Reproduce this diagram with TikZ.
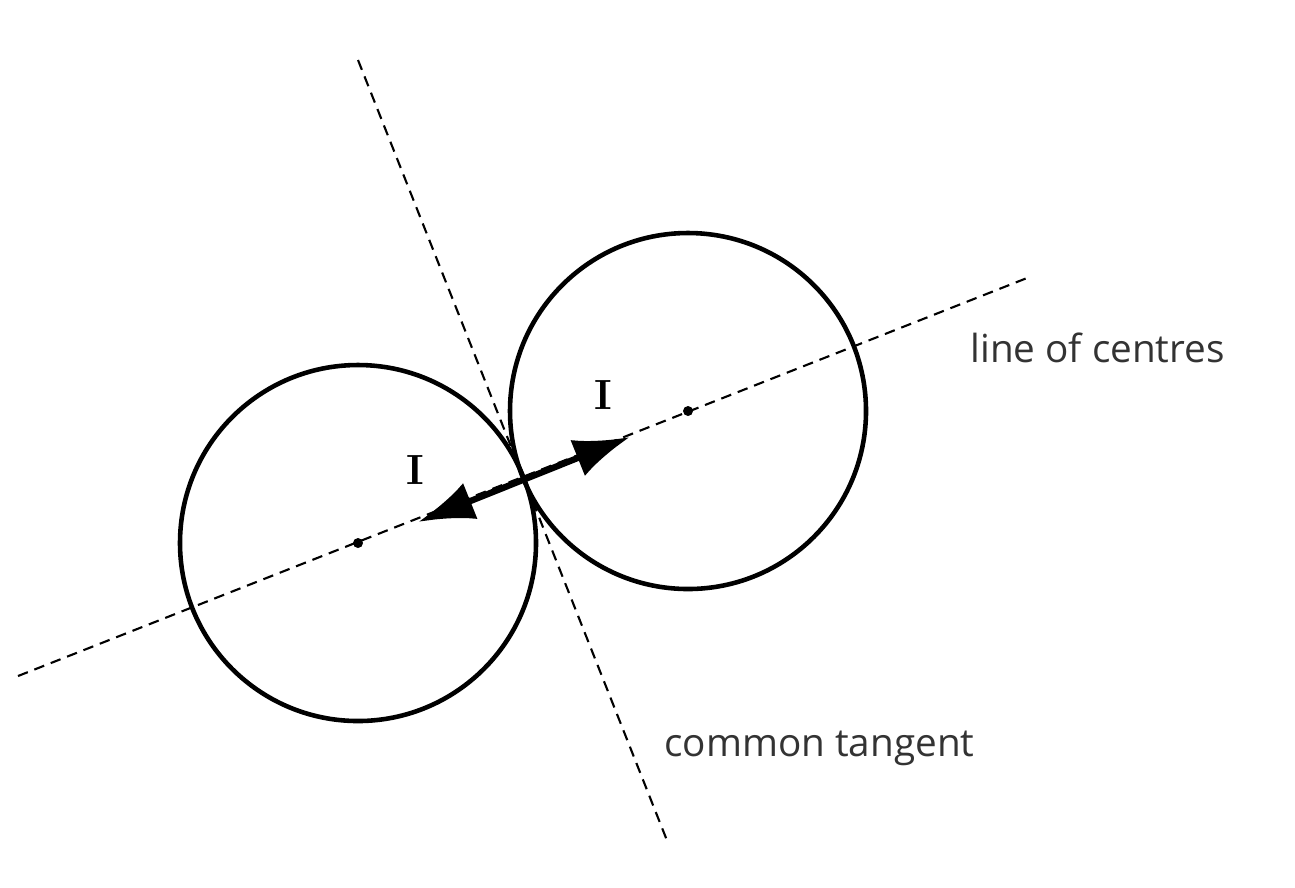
\documentclass[tikz,border=0pt]{standalone}
\usepackage{fontspec}
\setsansfont{Open Sans}
\usetikzlibrary{arrows.meta}
\begin{document}
\begin{tikzpicture}[x=0.01cm,y=-0.01cm,
  dashline/.style={densely dashed,line width=0.6pt},
  circ/.style={line width=1.3pt},
  lbl/.style={font=\sffamily\fontsize{11}{13}\selectfont,text=black!80},
  force/.style={font=\bfseries\fontsize{12}{14}\selectfont}]
\useasboundingbox (0,0) rectangle (1295,887);
\coordinate (L1) at (18,676); \coordinate (L2) at (1027,278);
\coordinate (T1) at (358,60); \coordinate (T2) at (668,843);
\draw[dashline] (L1) -- (L2);
\draw[dashline] (T1) -- (T2);
\coordinate (c1) at (358,543); \coordinate (c2) at (688,411);
\draw[circ] (c1) circle (178);
\draw[circ] (c2) circle (178);
\fill (c1) circle (5); \fill (c2) circle (5);
\coordinate (a1) at (418,522); \coordinate (a2) at (630,437);
\draw[line width=1.8pt,{Latex[length=16pt,width=11pt]}-{Latex[length=16pt,width=11pt]}] (a1) -- (a2);
\node[force] (f1) at (415,470) {I};
\node[force] (f2) at (603,395) {I};
\node[lbl,anchor=west] (loc) at (958,348) {line of centres};
\node[lbl,anchor=west] (ct) at (652,748) {common tangent};
\end{tikzpicture}
\end{document}
